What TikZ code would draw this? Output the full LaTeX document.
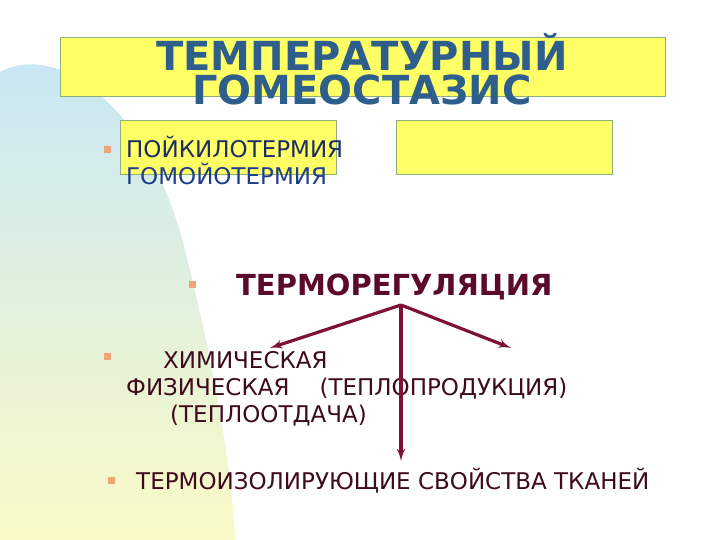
\documentclass[tikz,border=0pt]{standalone}
\usepackage{fontspec}
\setmainfont{DejaVu Sans}
\usetikzlibrary{shapes,arrows}

\definecolor{titleblue}{HTML}{2E5E8C}
\definecolor{boxyellow}{HTML}{FFFF66}
\definecolor{boxgreen}{HTML}{8DB07A}
\definecolor{bulletorange}{HTML}{F0A47A}
\definecolor{maroon}{HTML}{5C0A2C}
\definecolor{darkmaroon}{HTML}{3E0A1C}
\definecolor{arrowred}{HTML}{7E1236}
\definecolor{navy}{HTML}{1C2C64}
\definecolor{midblue}{HTML}{1E3C8C}
\definecolor{blobblue}{HTML}{C6E6F6}
\definecolor{blobyellow}{HTML}{FAFAC6}

\begin{document}
\begin{tikzpicture}[x=1pt, y=-1pt, node distance = 28pt, auto]

\tikzstyle{yellowbox} = [draw=boxgreen, fill=boxyellow, line width=0.8pt]
\tikzstyle{bullet} = [fill=bulletorange, minimum size=7pt, inner sep=0pt]
\tikzstyle{item} = [anchor=base west, inner sep=0pt, font=\fontsize{23}{27}\selectfont]
\tikzstyle{titleline} = [anchor=base, inner sep=0pt, text=titleblue,
  text height=29pt, text depth=0pt, font=\fontsize{40}{33}\selectfont\bfseries]
\tikzstyle{line} = [draw=arrowred, -latex', line width=3.2pt]

\useasboundingbox (0,0) rectangle (720,540);
\fill[white] (0,0) rectangle (720,540);

% background blob
\shade[top color=blobblue, bottom color=blobyellow]
  (0,540) -- (0,72) .. controls (60,40) and (150,110) .. (185,250)
  .. controls (215,370) and (232,470) .. (235,540) -- cycle;

% title
\node [yellowbox, minimum width=605pt, minimum height=59pt, anchor=north west]
  (titlebox) at (60,37) {};
\node [titleline] (title1) at (362,71) {ТЕМПЕРАТУРНЫЙ};
\node [titleline] (title2) at (362,105) {ГОМЕОСТАЗИС};

% small boxes
\node [yellowbox, minimum width=216pt, minimum height=54pt, anchor=north west]
  (leftbox) at (120,120) {};
\node [yellowbox, minimum width=216pt, minimum height=54pt, anchor=north west]
  (rightbox) at (396,120) {};

\node [bullet] (b1) at (107,150) {};
\node [item, text=navy] (poik) at (126,158) {ПОЙКИЛОТЕРМИЯ};
\node [item, text=midblue] (gomo) at (126,185) {ГОМОЙОТЕРМИЯ};

% thermoregulation
\node [bullet] (b2) at (192,284) {};
\node [anchor=base west, inner sep=0pt, text=maroon,
  font=\fontsize{29}{34}\selectfont\bfseries] (thermo) at (236,295) {ТЕРМОРЕГУЛЯЦИЯ};
\coordinate (fork) at (401,305);

\node [bullet] (b3) at (107,356) {};
\node [item, text=darkmaroon] (chem) at (163,368) {ХИМИЧЕСКАЯ};
\node [item, text=darkmaroon] (phys) at (126,395) {ФИЗИЧЕСКАЯ\hspace{30pt}(ТЕПЛОПРОДУКЦИЯ)};
\node [item, text=darkmaroon] (otd) at (170,422) {(ТЕПЛООТДАЧА)};

\node [bullet] (b4) at (111,480) {};
\node [item, text=darkmaroon] (iso) at (136,489) {ТЕРМОИЗОЛИРУЮЩИЕ СВОЙСТВА ТКАНЕЙ};

\coordinate (leftend) at (270,348);
\coordinate (rightend) at (511,348);
\coordinate (downend) at (401,461);

\path [line] (fork) -- (leftend);
\path [line] (fork) -- (rightend);
\path [line] (fork) -- (downend);
\end{tikzpicture}
\end{document}
